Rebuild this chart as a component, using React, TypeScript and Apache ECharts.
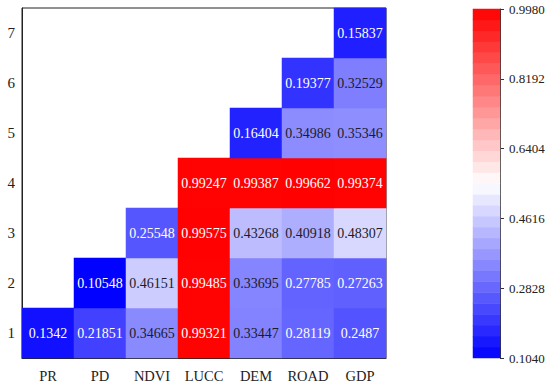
import React, { useEffect, useRef } from "react";
import * as echarts from "echarts";

const xCategories = ["PR", "PD", "NDVI", "LUCC", "DEM", "ROAD", "GDP"];
const yCategories = ["1", "2", "3", "4", "5", "6", "7"];
// values per row (y = 1..7), starting column index for each row
const row1 = [0.1342, 0.21851, 0.34665, 0.99321, 0.33447, 0.28119, 0.2487];
const row2 = [0.10548, 0.46151, 0.99485, 0.33695, 0.27785, 0.27263];
const row3 = [0.25548, 0.99575, 0.43268, 0.40918, 0.48307];
const row4 = [0.99247, 0.99387, 0.99662, 0.99374];
const row5 = [0.16404, 0.34986, 0.35346];
const row6 = [0.19377, 0.32529];
const row7 = [0.15837];
const rows = [row1, row2, row3, row4, row5, row6, row7];
const rowStart = [0, 1, 2, 3, 4, 5, 6];

const vMin = 0.104;
const vMax = 0.998;
const colorbarTicks = ["0.1040", "0.2828", "0.4616", "0.6404", "0.8192", "0.9980"];
const colorSteps = 32;

const FONT = "'Liberation Serif', 'Times New Roman', serif";

export default function App() {
  const ref = useRef<HTMLDivElement>(null);
  useEffect(() => {
    if (!ref.current) return;
    const chart = echarts.init(ref.current, null, { renderer: "svg" });

    const data: any[] = [];
    rows.forEach((r, yi) => {
      r.forEach((v, k) => {
        const xi = rowStart[yi] + k;
        const dark = v > 0.3 && v < 0.8;
        data.push({
          value: [xi, yi, v],
          label: { color: dark ? "#1b1b2b" : "#ffffff" },
        });
      });
    });

    const stepCats: string[] = [];
    const stepData: any[] = [];
    const stepW = (vMax - vMin) / colorSteps;
    for (let i = 0; i < colorSteps; i++) {
      stepCats.push(String(i));
      stepData.push([0, i, vMin + (i + 0.5) * stepW]);
    }

    chart.setOption({
      animation: false,
      backgroundColor: "#ffffff",
      grid: [
        {
          left: 22,
          right: 164,
          top: 8,
          bottom: 28,
          show: true,
          borderColor: "#222",
          borderWidth: 1,
          backgroundColor: "transparent",
        },
        { left: 473, width: 27, top: 9, bottom: 28 },
      ],
      xAxis: [
        {
          type: "category",
          data: xCategories,
          gridIndex: 0,
          axisLine: { lineStyle: { color: "#222" } },
          axisTick: { alignWithLabel: true, length: 4, lineStyle: { color: "#222" } },
          axisLabel: {
            color: "#222",
            fontFamily: FONT,
            fontSize: 14.5,
            margin: 10,
            interval: 0,
            hideOverlap: false,
          },
          splitArea: { show: false },
        },
        {
          type: "category",
          data: [""],
          gridIndex: 1,
          show: false,
        },
      ],
      yAxis: [
        {
          type: "category",
          data: yCategories,
          gridIndex: 0,
          axisLine: { lineStyle: { color: "#222" } },
          axisTick: { alignWithLabel: true, length: 4, lineStyle: { color: "#222" } },
          axisLabel: { color: "#222", fontFamily: FONT, fontSize: 15, margin: 7 },
        },
        {
          type: "category",
          data: stepCats,
          gridIndex: 1,
          show: false,
        },
        {
          type: "value",
          gridIndex: 1,
          position: "right",
          min: 0,
          max: vMax - vMin,
          interval: (vMax - vMin) / 5,
          axisLine: { show: true, lineStyle: { color: "#333" } },
          axisTick: { show: true, length: 4, lineStyle: { color: "#333" } },
          splitLine: { show: false },
          axisLabel: {
            color: "#222",
            fontFamily: FONT,
            fontSize: 13,
            margin: 9,
            formatter: (_v: number, idx: number) => colorbarTicks[idx] ?? "",
          },
        },
      ],
      visualMap: {
        type: "continuous",
        min: vMin,
        max: vMax,
        show: false,
        seriesIndex: [0, 1],
        inRange: { color: ["#0000ff", "#ffffff", "#ff0000"] },
      },
      series: [
        {
          type: "heatmap",
          xAxisIndex: 0,
          yAxisIndex: 0,
          data,
          label: {
            show: true,
            fontFamily: FONT,
            fontSize: 14,
            formatter: (p: any) => String(p.value[2]),
          },
          itemStyle: { borderWidth: 0 },
        },
        {
          type: "heatmap",
          xAxisIndex: 1,
          yAxisIndex: 1,
          data: stepData,
          itemStyle: { borderWidth: 0 },
        },
      ],
    });
    return () => chart.dispose();
  }, []);
  return (
    <div
      ref={ref}
      style={{ position: "fixed", left: 0, top: 0, width: 550, height: 386 }}
    />
  );
}
